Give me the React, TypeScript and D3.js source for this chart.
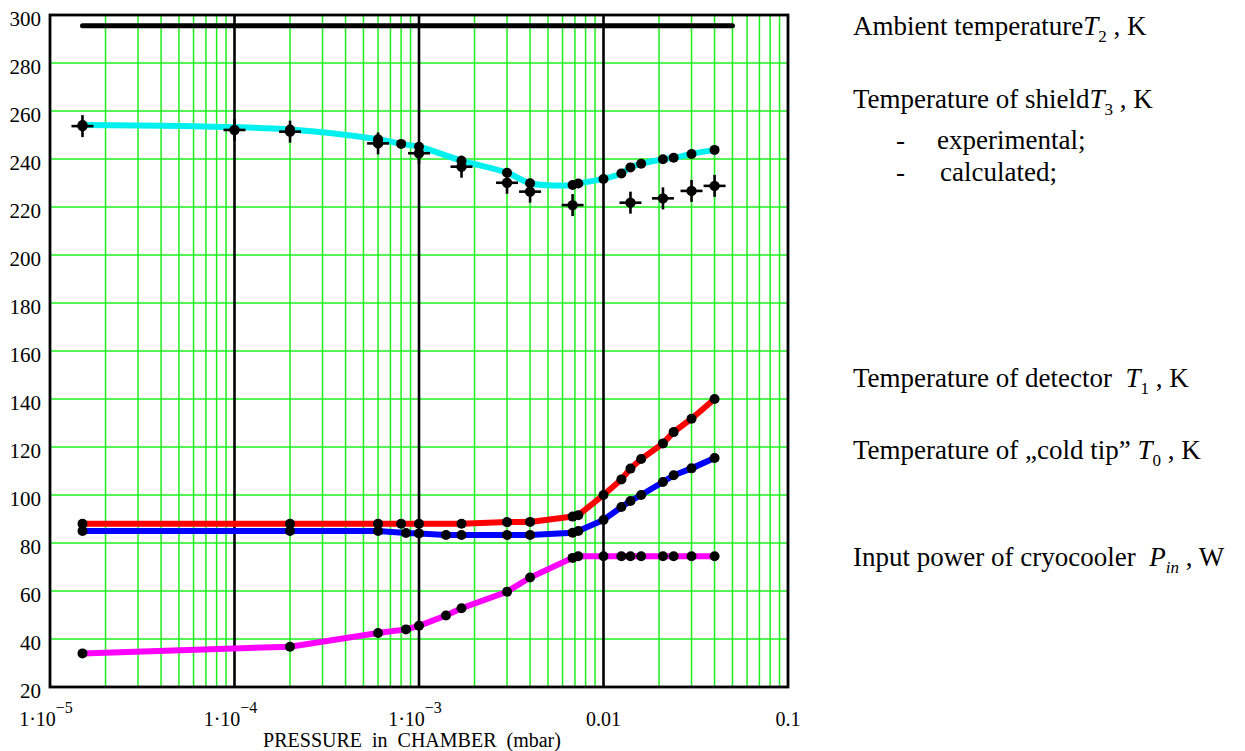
import React from "react";
import * as d3 from "d3";

// ---------- data ----------
const pressureAmbient = [1.5e-5, 0.05];
const ambientT2 = [295.5, 295.5];

const pressureShieldCalc = [1.5e-5, 2e-4, 6e-4, 8e-4, 1e-3, 1.7e-3, 3e-3, 4e-3, 6.8e-3, 7.3e-3, 0.01, 0.0125, 0.014, 0.016, 0.021, 0.024, 0.03, 0.04];
const shieldCalcT3 = [254.2, 252.3, 248.2, 246.3, 245.1, 239.3, 234.3, 229.9, 229.2, 229.8, 231.7, 234.0, 236.5, 238.0, 239.9, 240.5, 242.1, 243.8];

const pressureShieldExp = [1.5e-5, 1e-4, 2e-4, 6e-4, 1e-3, 1.7e-3, 3e-3, 4e-3, 6.8e-3, 0.014, 0.021, 0.03, 0.04];
const shieldExpT3 = [253.7, 252.1, 251.4, 246.5, 242.4, 236.8, 230.1, 226.4, 220.8, 221.8, 223.6, 226.7, 228.8];

const pressureDetector = [1.5e-5, 2e-4, 6e-4, 8e-4, 1e-3, 1.7e-3, 3e-3, 4e-3, 6.8e-3, 7.3e-3, 0.01, 0.0125, 0.014, 0.016, 0.021, 0.024, 0.03, 0.04];
const detectorT1 = [88, 88, 88, 88, 88, 88, 88.7, 88.8, 91, 91.6, 100, 106.5, 111, 115, 121.5, 126.2, 131.8, 140];

const pressureColdTip = [1.5e-5, 2e-4, 6e-4, 8.5e-4, 1e-3, 1.4e-3, 1.7e-3, 3e-3, 4e-3, 6.8e-3, 7.3e-3, 0.01, 0.0125, 0.014, 0.016, 0.021, 0.024, 0.03, 0.04];
const coldTipT0 = [85, 85, 85, 84.2, 84, 83.3, 83.3, 83.3, 83.3, 84.3, 85, 89.6, 95, 97.5, 100, 105.4, 108.2, 111.1, 115.4];

const pressurePower = [1.5e-5, 2e-4, 6e-4, 8.5e-4, 1e-3, 1.4e-3, 1.7e-3, 3e-3, 4e-3, 6.8e-3, 7.3e-3, 0.01, 0.0125, 0.014, 0.016, 0.021, 0.024, 0.03, 0.04];
const inputPowerPin = [34, 36.8, 42.5, 44, 45.5, 49.8, 52.8, 59.7, 65.6, 73.8, 74.5, 74.5, 74.5, 74.5, 74.5, 74.5, 74.5, 74.5, 74.5];

const yTicks = [20, 40, 60, 80, 100, 120, 140, 160, 180, 200, 220, 240, 260, 280, 300];
const xDecades = [1e-5, 1e-4, 1e-3, 1e-2, 1e-1];
const xTickMantissa = ["1·10", "1·10", "1·10", "0.01", "0.1"];
const xTickExponent = ["−5", "−4", "−3", "", ""];

// ---------- layout ----------
const W = 1245;
const H = 751;
const L = 50, R = 788, T = 15, B = 687;
const FONT = "'Liberation Serif', 'Times New Roman', serif";

type Pt = [number, number];
const zip = (xs: number[], ys: number[]): Pt[] => xs.map((x, i) => [x, ys[i]]);

export default function App() {
  const x = d3.scaleLog().domain([1e-5, 0.1]).range([L, R]);
  const y = d3.scaleLinear().domain([20, 300]).range([B, T]);

  const lin = d3.line<Pt>().x((d) => x(d[0])).y((d) => y(d[1]));
  const smooth = d3.line<Pt>().x((d) => x(d[0])).y((d) => y(d[1])).curve(d3.curveCatmullRom.alpha(0.5));

  const minorX: number[] = [];
  for (let e = -5; e < -1; e++) for (let k = 2; k <= 9; k++) minorX.push(k * Math.pow(10, e));

  const ambient = zip(pressureAmbient, ambientT2);
  const shieldCalc = zip(pressureShieldCalc, shieldCalcT3);
  const shieldExp = zip(pressureShieldExp, shieldExpT3);
  const detector = zip(pressureDetector, detectorT1);
  const coldTip = zip(pressureColdTip, coldTipT0);
  const power = zip(pressurePower, inputPowerPin);

  const dots = (pts: Pt[], key: string) =>
    pts.map((d, i) => <circle key={key + i} cx={x(d[0])} cy={y(d[1])} r={5} fill="#000" />);

  const legendFont = 27;
  const subT = (sub: string) => (
    <>
      <tspan fontStyle="italic">T</tspan>
      <tspan fontSize={17} dy={7}>{sub}</tspan>
      <tspan dy={-7}> , K</tspan>
    </>
  );

  return (
    <svg width={W} height={H} style={{ position: "absolute", left: 0, top: 0, background: "#fff" }} fontFamily={FONT}>
      {/* grid */}
      {yTicks.filter((v) => v > 20 && v < 300).map((v) => (
        <line key={"hg" + v} x1={L} x2={R} y1={y(v)} y2={y(v)} stroke="#1cf01c" strokeWidth={1.5} />
      ))}
      {minorX.map((v, i) => (
        <line key={"vg" + i} x1={x(v)} x2={x(v)} y1={T} y2={B} stroke="#1cf01c" strokeWidth={1.5} />
      ))}
      {xDecades.slice(1, 4).map((v) => (
        <line key={"vd" + v} x1={x(v)} x2={x(v)} y1={T} y2={B} stroke="#000" strokeWidth={2.6} />
      ))}
      <rect x={L} y={T} width={R - L} height={B - T} fill="none" stroke="#000" strokeWidth={2.8} />

      {/* y tick labels */}
      {yTicks.map((v) => (
        <text key={"yl" + v} x={41} y={y(v) + 6} fontSize={21} textAnchor="end" dominantBaseline="middle">
          {v}
        </text>
      ))}

      {/* x tick labels */}
      {xDecades.map((v, i) => (
        <text key={"xl" + i} x={x(v) + (xTickExponent[i] ? -4 : 0)} y={726} fontSize={20} textAnchor="middle">
          {xTickMantissa[i]}
          {xTickExponent[i] && (
            <tspan fontSize={16} dy={-13}>{xTickExponent[i]}</tspan>
          )}
        </text>
      ))}
      <text x={412} y={747} fontSize={20} textAnchor="middle" style={{ whiteSpace: "pre" }}>
        {"PRESSURE  in  CHAMBER  (mbar)"}
      </text>

      {/* curves */}
      <path d={lin(ambient) || ""} fill="none" stroke="#000" strokeWidth={5} strokeLinecap="round" />
      <path d={smooth(shieldCalc) || ""} fill="none" stroke="#00f0f0" strokeWidth={6} />
      <path d={lin(detector) || ""} fill="none" stroke="#ff0000" strokeWidth={6} />
      <path d={lin(coldTip) || ""} fill="none" stroke="#0000ff" strokeWidth={6} />
      <path d={lin(power) || ""} fill="none" stroke="#ff00ff" strokeWidth={6} />

      {/* markers */}
      {dots(shieldCalc, "sc")}
      {dots(detector, "dt")}
      {dots(coldTip, "ct")}
      {dots(power, "pw")}
      {shieldExp.map((d, i) => {
        const cx = x(d[0]);
        const cy = y(d[1]);
        return (
          <g key={"ex" + i}>
            <line x1={cx - 11} x2={cx + 11} y1={cy} y2={cy} stroke="#000" strokeWidth={2.6} />
            <line x1={cx} x2={cx} y1={cy - 11} y2={cy + 11} stroke="#000" strokeWidth={2.6} />
            <circle cx={cx} cy={cy} r={5.2} fill="#000" />
          </g>
        );
      })}

      {/* legend texts */}
      <g fontSize={legendFont}>
        <text x={853} y={35}>
          Ambient temperature{subT("2")}
        </text>
        <text x={853} y={108}>
          Temperature of shield{subT("3")}
        </text>
        <text x={896} y={149}>-</text>
        <text x={937} y={149}>experimental;</text>
        <text x={896} y={181}>-</text>
        <text x={940} y={181}>calculated;</text>
        <text x={853} y={387} style={{ whiteSpace: "pre" }}>
          {"Temperature of detector  "}{subT("1")}
        </text>
        <text x={853} y={459} style={{ whiteSpace: "pre" }}>
          {"Temperature of \u201Ecold tip\u201D "}{subT("0")}
        </text>
        <text x={853} y={566} style={{ whiteSpace: "pre" }}>
          {"Input power of cryocooler  "}
          <tspan fontStyle="italic">P</tspan>
          <tspan fontSize={17} dy={7} fontStyle="italic">in</tspan>
          <tspan dy={-7}> , W</tspan>
        </text>
      </g>
    </svg>
  );
}
